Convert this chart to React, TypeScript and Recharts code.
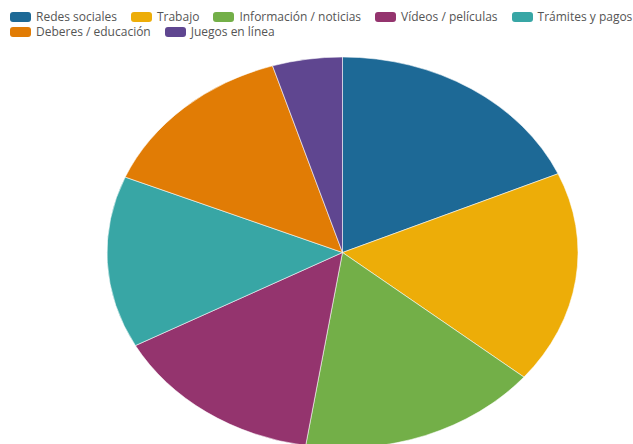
import React from "react";
import { PieChart, Pie, Cell } from "recharts";

const categories = [
  "Redes sociales",
  "Trabajo",
  "Información / noticias",
  "Vídeos / películas",
  "Trámites y pagos",
  "Deberes / educación",
  "Juegos en línea",
];
const values = [184, 176, 165, 146, 142, 139, 48];
const colors = ["#1D6996", "#EDAD08", "#73AF48", "#94346E", "#38A6A5", "#E17C05", "#5F4690"];

const data = categories.map((name, i) => ({ name, value: values[i] }));

const CX = 342.5;
const CY = 252.5;
const RY = 195.5;
const RX = 235.5;

export default function App() {
  return (
    <div style={{ position: "relative", width: 633, height: 444, overflow: "hidden", fontFamily: "'Open Sans', 'Noto Sans', sans-serif" }}>
      <style>{`body{margin:0} .ell .recharts-pie{transform-origin:${CX}px ${CY}px;transform:scaleX(${RX / RY});}`}</style>
      <div
        style={{
          position: "absolute",
          left: 10,
          top: 9,
          width: 623,
          display: "flex",
          flexWrap: "wrap",
          columnGap: 14,
          rowGap: 0,
          fontSize: 12,
          lineHeight: "15px",
          color: "#555",
          zIndex: 2,
        }}
      >
        {categories.map((c, i) => (
          <div key={c} style={{ display: "flex", alignItems: "center", whiteSpace: "nowrap" }}>
            <span
              style={{
                display: "inline-block",
                width: 21,
                height: 10,
                borderRadius: 3,
                background: colors[i],
                marginRight: 5,
              }}
            />
            <span>{c}</span>
          </div>
        ))}
      </div>
      <PieChart
        width={633}
        height={444}
        className="ell"
        margin={{ top: 0, right: 0, bottom: 0, left: 0 }}
        style={{ position: "absolute", left: 0, top: 0 }}
      >
        <Pie
          data={data}
          dataKey="value"
          nameKey="name"
          cx={CX}
          cy={CY}
          outerRadius={RY}
          innerRadius={0}
          startAngle={90}
          endAngle={-270}
          stroke="#ffffff"
          strokeWidth={0.5}
          isAnimationActive={false}
        >
          {data.map((d, i) => (
            <Cell key={d.name} fill={colors[i]} />
          ))}
        </Pie>
      </PieChart>
    </div>
  );
}
